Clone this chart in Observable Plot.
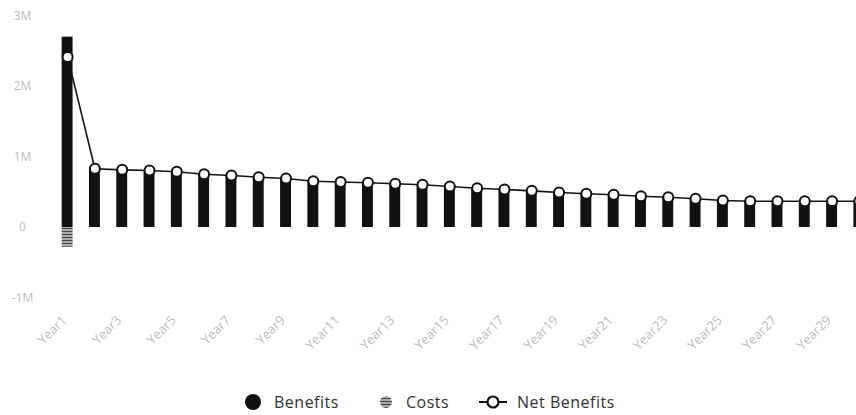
<!DOCTYPE html>
<html>
<head>
<meta charset="utf-8">
<script src="https://cdn.jsdelivr.net/npm/d3@7"></script>
<script src="https://cdn.jsdelivr.net/npm/@observablehq/plot@0.6"></script>
<style>
  html, body { margin: 0; padding: 0; background: #fff; }
  body { width: 856px; height: 415px; overflow: hidden; position: relative; font-family: "Open Sans", sans-serif; }
  #chart { position: absolute; left: 0; top: 0; width: 878px; }
  .legend { position: absolute; top: 391px; left: 0; width: 856px; height: 22px; font-family: "Open Sans", sans-serif; font-size: 16px; color: #333; letter-spacing: 0.5px; }
  .item { position: absolute; top: 0; display: flex; align-items: center; height: 22px; white-space: nowrap; }
  .item svg { margin-right: 8px; }
</style>
</head>
<body>
<div id="chart"></div>
<div class="legend">
  <div class="item" style="left:244px"><svg width="18" height="18"><circle cx="9" cy="9" r="8" fill="#111"/></svg><span style="margin-left:4px">Benefits</span></div>
  <div class="item" style="left:379px"><svg width="14" height="14"><defs><pattern id="legPat" width="3" height="3" patternUnits="userSpaceOnUse"><rect width="3" height="3" fill="#aaa"/><path d="M0,0.5H3" stroke="#444" stroke-width="1"/></pattern></defs><circle cx="7" cy="7" r="6" fill="url(#legPat)"/></svg><span style="margin-left:5px">Costs</span></div>
  <div class="item" style="left:477px"><svg width="32" height="16"><line x1="2" y1="8" x2="30" y2="8" stroke="#111" stroke-width="2"/><circle cx="16" cy="8" r="5.5" fill="#fff" stroke="#111" stroke-width="2.2"/></svg><span>Net Benefits</span></div>
</div>
<script>
const years = ["Year1","Year2","Year3","Year4","Year5","Year6","Year7","Year8","Year9","Year10",
  "Year11","Year12","Year13","Year14","Year15","Year16","Year17","Year18","Year19","Year20",
  "Year21","Year22","Year23","Year24","Year25","Year26","Year27","Year28","Year29","Year30"];
const tickLabels = ["Year1","Year3","Year5","Year7","Year9","Year11","Year13","Year15","Year17","Year19",
  "Year21","Year23","Year25","Year27","Year29"];
const benefits = [2700000, 833000, 818000, 809000, 790000, 756000, 738000, 713000, 695000, 657000,
  645000, 634000, 620000, 606000, 582000, 557000, 539000, 520000, 496000, 478000,
  464000, 444000, 430000, 407000, 383000, 373000, 373000, 373000, 373000, 372000];
const costs = [-280000, 0, 0, 0, 0, 0, 0, 0, 0, 0,
  0, 0, 0, 0, 0, 0, 0, 0, 0, 0,
  0, 0, 0, 0, 0, 0, 0, 0, 0, 0];
const net = [2420000, 833000, 818000, 809000, 790000, 756000, 738000, 713000, 695000, 657000,
  645000, 634000, 620000, 606000, 582000, 557000, 539000, 520000, 496000, 478000,
  464000, 444000, 430000, 407000, 383000, 373000, 373000, 373000, 373000, 372000];
const yTicks = [-1000000, 0, 1000000, 2000000, 3000000];

const data = years.map((y, i) => ({year: y, benefits: benefits[i], costs: costs[i], net: net[i]}));

const chart = Plot.plot({
  width: 878,
  height: 375,
  marginLeft: 48,
  marginRight: 0,
  marginTop: 15.5,
  marginBottom: 77.5,
  style: {background: "transparent", fontFamily: "'Open Sans', sans-serif", overflow: "visible", maxWidth: "none"},
  x: {type: "band", domain: years, paddingInner: 0.6, paddingOuter: 0.5, round: false},
  y: {domain: [-1000000, 3000000]},
  marks: [
    Plot.barY(data, {x: "year", y: "benefits", fill: "#111"}),
    Plot.barY(data.filter(d => d.costs < 0), {x: "year", y: "costs", fill: "url(#costsPat)"}),
    Plot.lineY(data, {x: "year", y: "net", stroke: "#111", strokeWidth: 1.6}),
    Plot.dot(data, {x: "year", y: "net", r: 5, fill: "#fff", stroke: "#111", strokeWidth: 2}),
    Plot.axisX({ticks: tickLabels, tickRotate: -45, tickSize: 0, tickPadding: 14, dx: -3, dy: 6, label: null, fill: "#bdbdbd", fontSize: 13}),
    Plot.axisY({ticks: yTicks, tickFormat: d => d === 0 ? "0" : (d / 1e6) + "M", tickSize: 0, tickPadding: 26, textAnchor: "middle", label: null, fill: "#bdbdbd", fontSize: 12})
  ]
});

const defs = d3.select(chart).insert("defs", ":first-child");
const pat = defs.append("pattern").attr("id", "costsPat").attr("width", 3).attr("height", 3).attr("patternUnits", "userSpaceOnUse");
pat.append("rect").attr("width", 3).attr("height", 3).attr("fill", "#aaa");
pat.append("path").attr("d", "M0,0.5H3").attr("stroke", "#444").attr("stroke-width", 1);

document.getElementById("chart").appendChild(chart);
</script>
</body>
</html>
